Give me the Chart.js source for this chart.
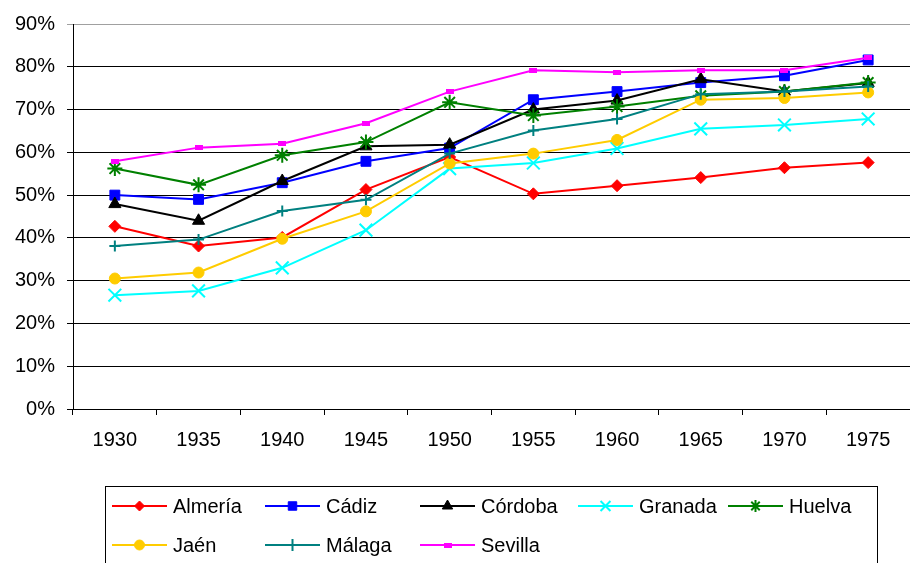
<!DOCTYPE html>
<html>
<head>
<meta charset="utf-8">
<script src="https://cdn.jsdelivr.net/npm/chart.js@4/dist/chart.umd.min.js"></script>
<style>
  html, body { margin: 0; padding: 0; background: #fff; }
  canvas { display: block; }
</style>
</head>
<body>
<canvas id="canvas" width="910" height="563"></canvas>
<script>
var years = ['1930', '1935', '1940', '1945', '1950', '1955', '1960', '1965', '1970', '1975'];
var yTicks = [0, 10, 20, 30, 40, 50, 60, 70, 80, 90];

var almeria = [42.7, 38.1, 40.1, 51.3, 58.9, 50.3, 52.2, 54.1, 56.4, 57.6];
var cadiz   = [50.0, 49.0, 52.9, 57.9, 61.0, 72.3, 74.2, 76.3, 77.9, 81.6];
var cordoba = [47.9, 44.0, 53.3, 61.4, 61.8, 70.0, 72.1, 77.1, 74.2, 76.2];
var granada = [26.6, 27.6, 33.0, 41.8, 56.2, 57.5, 60.9, 65.5, 66.4, 67.8];
var huelva  = [56.2, 52.4, 59.3, 62.4, 71.7, 68.6, 70.7, 73.2, 74.2, 76.3];
var jaen    = [30.5, 31.9, 39.8, 46.2, 57.4, 59.7, 62.9, 72.3, 72.7, 74.0];
var malaga  = [38.1, 39.6, 46.3, 48.9, 59.7, 65.1, 67.8, 73.6, 74.2, 75.4];
var sevilla = [57.9, 61.1, 62.0, 66.8, 74.2, 79.2, 78.7, 79.2, 79.2, 82.1];

// little dash used by Sevilla
var dash = document.createElement('canvas');
dash.width = 8; dash.height = 5;
var dctx = dash.getContext('2d');
dctx.fillStyle = '#FF00FF';
dctx.fillRect(0, 0, 8, 5);

function serie(label, data, color, style, radius, legendRadius) {
    return {
        label: label,
        data: data,
        borderColor: color,
        backgroundColor: color,
        borderWidth: 2,
        pointStyle: style,
        pointRadius: radius,
        pointBorderWidth: (style == 'cross' || style == 'crossRot' || style == 'star') ? 2 : 1,
        pointBorderColor: color,
        pointBackgroundColor: color,
        legendRadius: legendRadius,
        fill: false,
        tension: 0
    };
}

var datasets = [
    serie('Almería', almeria, '#FF0000', 'rectRot', 6, 5),
    serie('Cádiz', cadiz, '#0000FF', 'rect', 7, 6),
    serie('Córdoba', cordoba, '#000000', 'triangle', 7, 6),
    serie('Granada', granada, '#00FFFF', 'crossRot', 9, 7),
    serie('Huelva', huelva, '#008000', 'star', 7.5, 6),
    serie('Jaén', jaen, '#FFCC00', 'circle', 5.5, 5),
    serie('Málaga', malaga, '#008080', 'cross', 5.5, 6),
    serie('Sevilla', sevilla, '#FF00FF', dash, 4, 4)
];
// later series sit on top, like the original
datasets.forEach(function (d, i) { d.order = datasets.length - i; });

var FONT = "'Liberation Sans', Arial, sans-serif";

var boxLegend = {
    id: 'boxLegend',
    afterDraw: function (chart) {
        var ctx = chart.ctx;
        var colX = [112, 265, 420, 578, 728];
        var rowY = [506, 545];
        ctx.save();
        ctx.strokeStyle = '#000';
        ctx.lineWidth = 1;
        ctx.strokeRect(105.5, 486.5, 772, 120);
        ctx.font = '20px ' + FONT;
        ctx.textBaseline = 'middle';
        ctx.fillStyle = '#000';
        chart.data.datasets.forEach(function (d, i) {
            var x = colX[i % 5];
            var y = rowY[Math.floor(i / 5)];
            ctx.strokeStyle = d.borderColor;
            ctx.lineWidth = 2;
            ctx.beginPath();
            ctx.moveTo(x, y);
            ctx.lineTo(x + 55, y);
            ctx.stroke();
            ctx.fillStyle = d.backgroundColor;
            ctx.lineWidth = d.pointBorderWidth;
            Chart.helpers.drawPoint(ctx, {
                pointStyle: d.pointStyle,
                radius: d.legendRadius,
                rotation: 0,
                borderWidth: d.pointBorderWidth
            }, x + 27.5, y);
            ctx.fillStyle = '#000';
            ctx.fillText(d.label, x + 61, y + 1);
        });
        ctx.restore();
    }
};

var config = {
    type: 'line',
    data: {
        labels: years,
        datasets: datasets
    },
    options: {
        responsive: false,
        devicePixelRatio: 1,
        animation: false,
        layout: {
            autoPadding: false,
            padding: { top: 21, left: 0, right: 0, bottom: 0 }
        },
        plugins: {
            legend: { display: false },
            tooltip: { enabled: false },
            title: { display: false }
        },
        scales: {
            x: {
                offset: true,
                afterFit: function (s) {
                    s.height = 154;
                    s.paddingLeft = 0;
                    s.paddingRight = 0;
                },
                grid: {
                    offset: true,
                    drawOnChartArea: false,
                    drawTicks: true,
                    tickLength: 6,
                    color: '#000'
                },
                border: { display: true, color: '#000', width: 1 },
                ticks: {
                    padding: 13,
                    color: '#000',
                    font: { family: FONT, size: 20 },
                    maxRotation: 0
                }
            },
            y: {
                min: 0,
                max: 90,
                afterFit: function (s) { s.width = 73; },
                afterBuildTicks: function (s) {
                    s.ticks = yTicks.map(function (v) { return { value: v }; });
                },
                grid: {
                    color: function (c) { return c.tick && c.tick.value === 90 ? '#a0a0a0' : '#000'; },
                    lineWidth: 1,
                    tickLength: 6,
                    drawTicks: true
                },
                border: { display: true, color: '#000', width: 1 },
                ticks: {
                    padding: 12,
                    color: '#000',
                    font: { family: FONT, size: 20 },
                    callback: function (v) { return v + '%'; }
                }
            }
        }
    },
    plugins: [boxLegend]
};

window.onload = function () {
    var ctx = document.getElementById('canvas').getContext('2d');
    window.myLine = new Chart(ctx, config);
};
</script>
</body>
</html>
